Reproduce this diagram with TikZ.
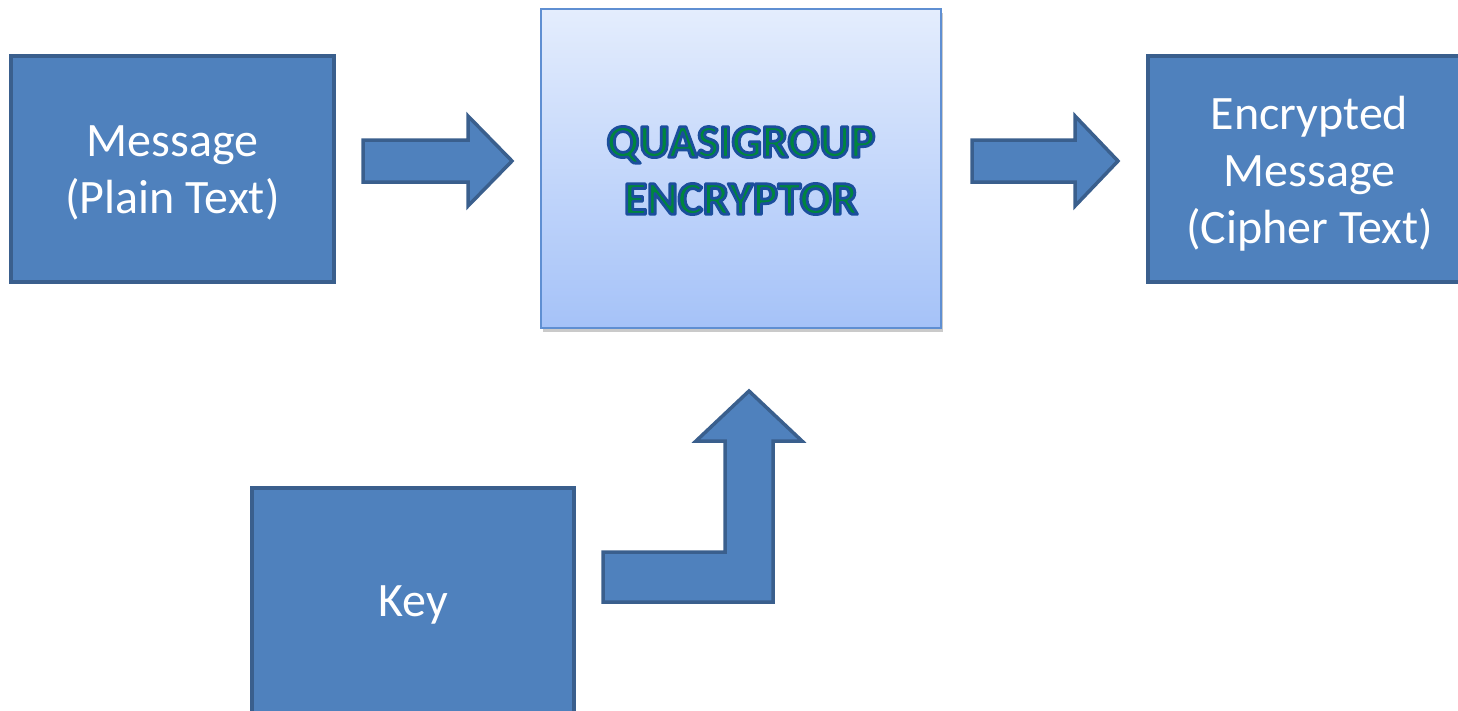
\documentclass[tikz,border=0pt]{standalone}
\usepackage{fontspec}
\setmainfont{Carlito}
\usetikzlibrary{shadows,calc}
\definecolor{boxfill}{HTML}{4F81BD}
\definecolor{boxline}{HTML}{3A5F8D}
\definecolor{ctop}{HTML}{E4EDFD}
\definecolor{cbot}{HTML}{A5C2F8}
\definecolor{cline}{HTML}{5F8FD2}
\definecolor{tgreen}{HTML}{00853E}
\newcommand{\outlined}[1]{\special{pdf:code q}{\color{tgreen}\special{pdf:code 0.106 0.306 0.612 RG 2 Tr 2.8 w 1 j}#1\special{pdf:code 0 Tr}}\special{pdf:code Q}}
\tikzset{
  bluebox/.style={draw=boxline, line width=3.5pt, fill=boxfill, inner sep=0pt},
  boxtext/.style={text=white, inner sep=0pt, align=center, font=\fontsize{48}{57}\selectfont},
  blockarrow/.style={draw=boxline, line width=3.5pt, fill=boxfill, line join=miter},
  encbox/.style={draw=cline, line width=2pt, top color=ctop, bottom color=cbot, inner sep=0pt,
    drop shadow={shadow xshift=2pt, shadow yshift=-4pt, opacity=0.35, fill=black!60}},
  enctext/.style={inner sep=0pt, align=center, font=\bfseries\fontsize{47}{57}\selectfont}
}
\begin{document}
\begin{tikzpicture}[x=1pt,y=-1pt]
\useasboundingbox (0,0) rectangle (1458,710);
\clip (0,0) rectangle (1458,710);
\node[bluebox, minimum width=323pt, minimum height=226pt] (msg) at (172.5,169) {};
\node[boxtext] (msgt) at ([yshift=-4pt]msg.center) {Message\\(Plain Text)};
\node[encbox, minimum width=400pt, minimum height=319pt] (enc) at (741,168.5) {};
\node[enctext] (enct) at ([yshift=-2pt]enc.center) {\outlined{QUASIGROUP}\\\outlined{ENCRYPTOR}};
\node[bluebox, minimum width=323pt, minimum height=226pt] (out) at (1309.5,169) {};
\node[boxtext] (outt) at ([yshift=-5pt]out.center) {Encrypted\\Message\\(Cipher Text)};
\node[bluebox, minimum width=322pt, minimum height=226pt] (key) at (413,601) {};
\node[boxtext] (keyt) at ([yshift=-4pt]key.center) {Key};
% arrow message -> encryptor
\draw[blockarrow] (363,140) -- (468,140) -- (468,116) -- (512,161) -- (468,206) -- (468,182) -- (363,182) -- cycle;
% arrow encryptor -> output
\draw[blockarrow] (972,140) -- (1075,140) -- (1075,116) -- (1118,161) -- (1075,206) -- (1075,182) -- (972,182) -- cycle;
% bent arrow key -> encryptor
\draw[blockarrow] (603,552) -- (725,552) -- (725,441) -- (696,441) -- (749,391) -- (802,441) -- (773,441) -- (773,602) -- (603,602) -- cycle;
\end{tikzpicture}
\end{document}
